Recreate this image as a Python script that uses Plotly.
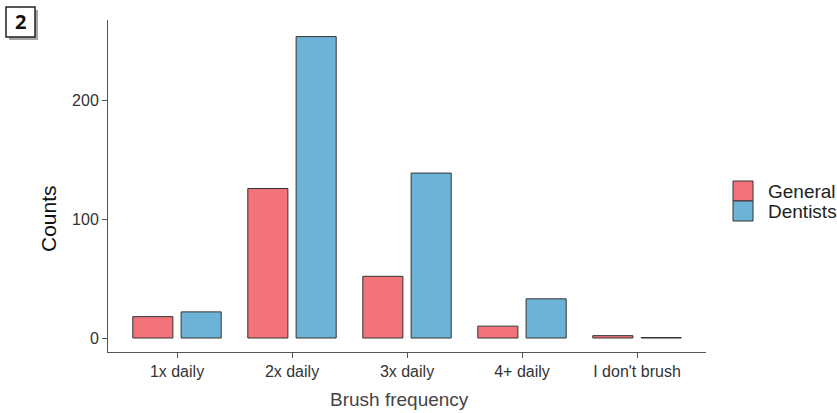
import plotly.graph_objects as go

categories = ["1x daily", "2x daily", "3x daily", "4+ daily", "I don't brush"]
general = [18, 126, 52, 10, 2]
dentists = [22, 254, 139, 33, 0.4]
series_names = ["General", "Dentists"]
colors = ["#F2737A", "#6DB3D8"]

W, H = 837, 413
L, R, T, B = 108, 131, 20, 61

fig = go.Figure()
for name, vals, col in zip(series_names, [general, dentists], colors):
    fig.add_trace(go.Bar(
        x=categories, y=vals, name=name,
        marker=dict(color=col, line=dict(color="#333333", width=1)),
        showlegend=False,
    ))

def px_x(p):
    return (p - L) / (W - L - R)

def px_y(p):
    return 1 - (p - T) / (H - T - B)

shapes = []
annotations = []
# custom legend
for i, (name, col) in enumerate(zip(series_names, colors)):
    y0 = 181 + i * 20
    shapes.append(dict(type="rect", xref="paper", yref="paper",
                       x0=px_x(733), x1=px_x(753), y0=px_y(y0 + 20), y1=px_y(y0),
                       fillcolor=col, line=dict(color="#333333", width=1)))
    annotations.append(dict(text=name, xref="paper", yref="paper",
                            x=px_x(766), y=px_y(y0 + 10), xanchor="left", yanchor="middle",
                            showarrow=False, font=dict(size=19, color="#222222")))

# axis titles
annotations.append(dict(text="Counts", xref="paper", yref="paper",
                        x=px_x(48), y=px_y(219), xanchor="center", yanchor="middle",
                        textangle=-90, showarrow=False, font=dict(size=21, color="#111111")))
annotations.append(dict(text="Brush frequency", xref="paper", yref="paper",
                        x=px_x(399), y=px_y(399), xanchor="center", yanchor="middle",
                        showarrow=False, font=dict(size=19, color="#444444")))

# panel label "2"
for off, fc, lc in [(3, "rgba(0,0,0,0.35)", "rgba(0,0,0,0)"), (0, "white", "#222222")]:
    shapes.append(dict(type="rect", xref="paper", yref="paper",
                       x0=px_x(6 + off), x1=px_x(35 + off), y0=px_y(37 + off), y1=px_y(7 + off),
                       fillcolor=fc, line=dict(color=lc, width=1.5)))
annotations.append(dict(text="<b>2</b>", xref="paper", yref="paper",
                        x=px_x(20.5), y=px_y(22), xanchor="center", yanchor="middle",
                        showarrow=False, font=dict(size=20, color="#111111", family="Open Sans")))

fig.update_layout(
    width=W, height=H,
    margin=dict(l=L, r=R, t=T, b=B),
    plot_bgcolor="white", paper_bgcolor="white",
    barmode="group", bargap=0.16, bargroupgap=0.17,
    font=dict(family="Liberation Sans, Arial, sans-serif", color="#4d4d4d"),
    shapes=shapes, annotations=annotations,
    xaxis=dict(
        range=[-0.6, 4.6], showline=True, linecolor="#555555", linewidth=1,
        ticks="outside", ticklen=5, tickcolor="#555555",
        tickfont=dict(size=16, color="#333333"),
        showgrid=False, zeroline=False,
    ),
    yaxis=dict(
        range=[-11.8, 268], showline=True, linecolor="#555555", linewidth=1,
        ticks="outside", ticklen=5, tickcolor="#555555",
        tickvals=[0, 100, 200],
        tickfont=dict(size=16, color="#333333"),
        showgrid=False, zeroline=False,
    ),
)

fig.write_html("out.html", config={"displayModeBar": False},
               post_script="document.body.style.margin='0';")
